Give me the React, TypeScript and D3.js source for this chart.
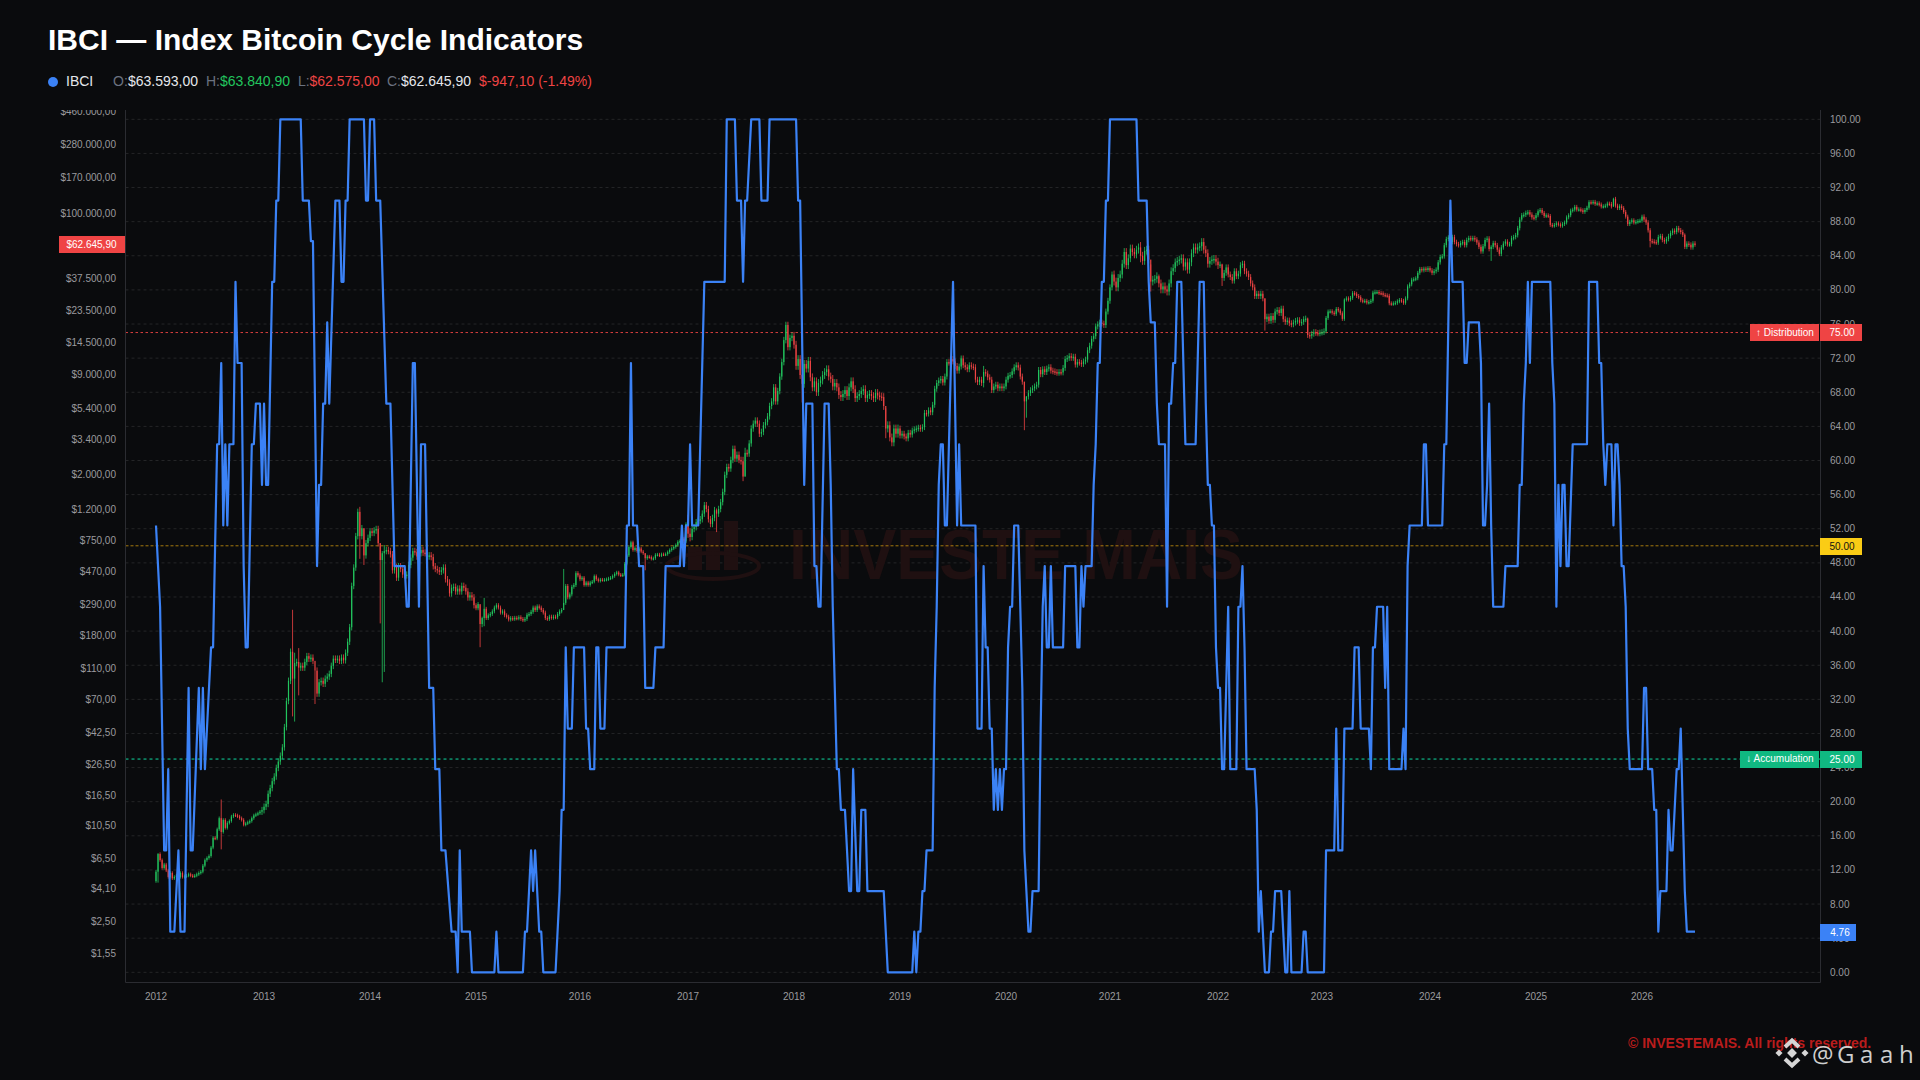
import React from "react";
import * as d3 from "d3";

const W = 1920, H = 1080;
const closes2012 = [5.3,6.9,6.3,5.6,5.9,5.4,4.9,5.2,4.8,4.9,5.0,4.9,5.2,4.9,4.95,5.0,5.1,5.0,4.95,5.0,5.1,5.2,5.3,5.8,6.3,6.5,6.7,7.6,8.8,8.7,10.0,11.8,9.6,11.5,10.2,11,11.3,12.1,12.4,12.3,12.1,11.8,11.5,10.7,10.9,11.1,11.3,11.8,12.3,12.5,12.7,13.0];
const closes2013 = [13.3,14.0,14.6,17.0,18.5,20.5,22,25,27.5,30,34,46,68,92,142,95,120,122,112,115,112,122,133,128,130,124,107,76,90,92,88,95,98,102,115,128,126,128,124,130,125,140,165,205,380,500,800,1150,800,900,600,720].slice(0, 52);
const closes2014 = [780,860,840,870,890,720,560,620,640,650,640,610,480,505,430,510,490,450,445,450,520,580,640,630,590,620,650,625,620,590,600,585,510,490,480,470,480,500,420,400,340,370,375,350,365,350,380,370,350,320,330,320,285];
const closes2015 = [272,290,215,235,270,235,245,250,260,275,285,275,255,260,245,240,230,235,232,236,234,238,232,228,232,247,250,258,275,265,280,275,265,255,235,232,240,236,240,238,250,260,265,295,380,320,335,375,385,460,445,420];
const closes2016 = [430,385,400,385,400,405,440,420,410,418,415,417,420,425,430,440,455,465,450,445,450,530,600,680,730,650,670,640,665,635,620,575,590,585,570,575,605,608,600,610,608,612,630,650,665,680,700,735,745,770,740,960];
const closes2017 = [830,790,890,915,985,1005,1030,1120,1270,1200,1030,960,1050,1180,1120,1200,1330,1550,2000,2250,2200,2500,2950,2550,2700,2500,2450,1950,2780,2750,3200,4000,4300,4500,4300,3700,3800,4200,4400,4800,5600,6000,7400,6000,7000,8700,10800,15000,18800,13500,15500,16000];
const closes2018 = [14000,10200,11300,8900,7800,10500,9800,11000,8600,7400,8100,6900,7900,8200,8900,9300,9700,8700,8400,7500,7900,7400,6600,6400,6700,7100,6500,7400,8100,7200,6300,6500,6700,7000,7200,6300,6600,6700,6500,6300,6800,6550,6450,6400,5600,4000,4200,3500,3250,4000,3700,4000];
const closes2019 = [3600,3700,3550,3450,3750,3650,3880,3950,4000,4050,3980,4080,5050,5000,5250,5100,5700,7250,7900,8200,8400,7950,8700,10800,10700,11300,10900,10200,9500,10100,11400,10300,10000,9700,10300,10100,10000,8300,8000,8300,7900,9300,9100,8600,8300,7100,7500,7700,7300,7500,7300,7500];
const closes2020 = [8300,8800,8900,9400,10000,10300,9950,8700,8050,6000,6450,6800,7100,7300,7500,7700,9600,9000,9700,9300,9800,10000,9500,9400,9300,9200,9300,9250,9900,11300,11500,11800,11500,11700,10400,10800,10700,10500,10900,11200,12900,13800,15300,15900,18400,19000,19500,19200,18800,23000,27000,33000,40000];
const closes2021 = [36000,33000,38000,40000,47000,56000,46000,51000,59000,56000,54000,58000,60000,53000,49000,57000,58000,50000,36000,37000,37500,39000,35000,32000,33500,32000,31000,35000,42000,44000,48000,49000,50000,51000,45000,48000,43000,48000,55000,60000,58000,60000,61000,65000,58000,55000,47000,49000,50000,50500,48500,46000];
const closes2022 = [46500,38000,41000,44500,40000,38500,36500,42000,39000,40500,46000,47000,42000,40500,38500,35000,33000,29000,30000,29000,30000,28000,20500,21300,20000,21500,20300,23000,23500,22500,24000,20500,19700,20100,19300,19000,19500,20000,20200,19400,19700,20500,20700,16200,16000,16500,16900,16700,16600,16800,16900,17100];
const closes2023 = [20900,23000,23100,22600,22200,23900,23400,22400,20600,27500,28000,27500,28200,30300,30000,29000,28500,27200,26800,27000,26300,26500,27000,30500,30700,30800,30300,30200,29500,29300,29100,26000,25800,26000,26200,26800,27300,27000,26200,28000,33500,34500,37000,37300,37800,41000,43500,42500,43700,42800,44000,42500];
const closes2024 = [41000,42000,43000,48000,52000,52500,62000,68000,69500,65000,70000,65000,63000,62000,64000,65000,62000,67000,69000,68000,69000,67500,64500,60500,56500,61000,67000,68500,58500,60500,64000,62000,58000,54500,60000,63500,65500,62800,63000,69000,70000,72000,80000,91000,97000,97800,100500,101500,98000,94000,93000,97000];
const closes2025 = [103000,105000,100500,96000,97000,96000,84000,83000,84000,86000,84500,83000,85000,87000,94000,97000,104000,105500,110000,105500,106000,104500,102000,105000,108500,118000,117000,118500,115000,116000,114000,110500,111000,112000,115500,115000,110500,124000,112000,108000,111000,108000,102000,95000,85000,88000,90000,87000,88000,89000,89500,95000];
const closes2026 = [91000,87000,77500,66000,65500,65000,64500,70000,71000,67000,65500,68000,71000,74500,77000,75500,80000,77500,75500,72500,60500,63500,62500,60000,63593,62645.9];
const firstOpen = 4.6;

// typical shadow beyond the body for each year, in percent
const shadowPctByYear = [2.5,5,5,3,2.5,5,6,4.5,4.5,6,4.5,3,3.5,3,3.5];
const yearStartWeeks = [0,52,104,157,209,261,313,365,417,470,522,574,626,678,730];

// [week, low, high] for the long shadows that stand out
const shadows: [number, number, number][] = [
  [1,4.5,7.0],[32,7.4,15.6],[67,54,266],[68,50,140],[70,74,150],[78,65,107],[100,570,1240],[102,520,900],[110,217,720],[111,90,640],[112,105,700],
  [159,152,285],[160,205,240],[161,208,318],[200,285,490],[240,480,620],[261,780,1100],[262,740,900],[275,850,1210],[288,1820,2620],[289,1950,3000],
  [317,5900,9000],[358,3460,5400],[406,7400,10200],[426,3900,8050],[427,4700,6500],[483,48000,65000],[488,31000,46500],[492,33000,40000],[513,57000,68900],
  [523,33700,47000],[544,17300,28000],[565,15500,21000],[583,20000,28000],[655,49000,62000],[715,110000,126000],[733,60000,80000],[750,58500,74000],
];

const ibciTrace: [number, number][] = [
[0,11],[2,9],[4,3],[5,3],[6,5],[7,1],[9,1],[11,3],[12,1],[14,1],[16,7],[17,3],[18,3],[21,7],[22,5],[23,7],[24,5],[27,8],[28,8],[30,13],[31,13],[32,15],[33,11],[34,13],[35,11],[36,13],[38,13],[39,17],[40,15],[42,15],[43,10],[44,8],[45,8],[47,13],[48,13],[49,14],[51,14],[52,12],[53,14],[54,12],[55,12],[57,17],[58,17],[59,19],[60,19],[61,21],[71,21],[72,19],[75,19],[76,18],[77,18],[79,10],[80,12],[81,12],[82,14],[83,14],[84,16],[85,14],[88,19],[90,19],[91,17],[92,17],[93,19],[94,19],[95,21],[102,21],[103,19],[104,19],[105,21],[107,21],[108,19],[110,19],[113,14],[115,14],[117,10],[122,10],[123,9],[124,9],[126,15],[127,15],[129,9],[130,13],[132,13],[134,7],[136,7],[137,5],[139,5],[140,3],[142,3],[145,1],[147,1],[148,0],[149,3],
[150,1],[154,1],[155,0],[166,0],[167,1],[168,0],[180,0],[181,1],[182,1],[184,3],[185,2],[186,3],[188,1],[189,1],[190,0],[196,0],[198,2],[199,4],[200,4],[201,8],[202,6],[204,6],[205,8],[210,8],[211,6],[212,6],[213,5],[215,5],[216,8],[217,8],[218,6],[220,6],[221,8],[230,8],[231,11],[232,11],[233,15],[234,11],[236,11],[237,10],[239,10],[240,7],[244,7],[245,8],[249,8],[250,10],[257,10],[258,11],[259,10],[260,11],[261,11],[262,13],[263,11],[266,11],[269,17],[279,17],[280,21],[284,21],[285,19],[287,19],[288,17],[289,19],[290,19],[292,21],[296,21],[297,19],[300,19],
[301,21],[314,21],[315,19],[316,19],[318,12],[319,14],[322,14],[323,10],[324,10],[325,9],[326,9],[328,14],[330,14],[331,12],[332,9],[333,7],[334,5],[335,5],[336,4],[338,4],[340,2],[341,2],[342,5],[344,2],[345,2],[346,4],[348,4],[349,2],[357,2],[359,0],[371,0],[372,1],[373,0],[374,1],[375,1],[376,2],[377,2],[378,3],[381,3],[382,7],[383,9],[384,12],[385,13],[386,13],[387,11],[388,11],[391,17],[393,11],[394,13],[395,11],[402,11],[403,6],[405,6],[406,10],[407,8],[408,8],[409,6],[410,6],[411,4],[412,5],[413,4],[414,5],[415,4],[416,5],[417,5],[418,8],[419,9],[420,9],[421,11],[423,11],[424,9],[425,7],[426,3],[427,2],[428,1],[429,1],[430,2],[433,2],[434,6],[435,9],[436,10],[437,8],[438,8],[439,10],[440,8],[445,8],[446,10],[451,10],[452,8],[453,8],
[454,10],[455,9],[456,10],[459,10],[460,12],[461,13],[462,15],[463,15],[464,17],[465,17],[466,19],[467,19],[468,21],[481,21],[482,19],[486,19],[487,17],[488,16],[490,16],[491,14],[492,13],[495,13],[496,9],[497,14],[498,14],[499,15],[500,15],[501,17],[503,17],[505,13],[510,13],[512,17],[514,17],[515,14],[516,12],[517,12],[518,11],[519,11],[520,8],[521,7],[522,7],[523,5],[524,5],[526,9],[527,5],[530,5],[531,9],[532,9],[533,10],[534,8],[535,5],[539,5],[540,4],[541,1],[542,2],[544,0],[546,0],[547,1],[548,1],[549,2],[552,2],[554,0],[555,0],[556,2],[557,0],[562,0],[563,1],[564,1],[565,0],[573,0],[574,3],[578,3],[579,6],[580,3],[582,3],[583,6],[587,6],[588,8],[590,8],[591,6],[595,6],[596,5],[597,8],[598,8],[599,9],[602,9],[603,7],[604,9],
[605,5],[611,5],[612,6],[613,5],[614,10],[615,11],[621,11],[622,13],[623,13],[624,11],[631,11],[632,13],[633,13],[634,16],[635,19],[636,17],[641,17],[642,15],[643,15],[644,16],[649,16],[650,15],[651,11],[652,11],[653,12],[654,14],[655,11],[656,9],[661,9],[662,10],[668,10],[669,12],[670,12],[671,14],[672,15],[673,17],[674,15],[675,17],[684,17],[685,15],[686,14],[687,9],[688,12],[689,10],[690,12],[691,12],[692,10],[693,10],[695,13],[702,13],[703,17],[707,17],[708,15],[709,15],[710,13],[711,12],[712,13],[714,13],[715,11],[716,13],[717,13],[718,12],[719,10],[720,10],[721,9],[722,6],[723,5],[729,5],[730,7],[731,7],[732,5],[734,5],[735,4],[736,4],[737,1],[738,2],[741,2],[742,4],[743,3],[744,3],[746,5],[747,5],[748,6],[749,4],[750,2],[751,1],[755,1],
];

const leftTicks = [460000,280000,170000,100000,37500,23500,14500,9000,5400,3400,2000,1200,750,470,290,180,110,70,42.5,26.5,16.5,10.5,6.5,4.1,2.5,1.55];
const rightTicks = d3.range(0, 101, 4);
const yearLabels = [2012,2013,2014,2015,2016,2017,2018,2019,2020,2021,2022,2023,2024,2025,2026];
const yearWeeks = [0,53,105,157,208,261,313,365,417,468,521,572,625,677,729];

const closes = [...closes2012,...closes2013,...closes2014,...closes2015,...closes2016,...closes2017,...closes2018,...closes2019,...closes2020,...closes2021,...closes2022,...closes2023,...closes2024,...closes2025,...closes2026];

const FONT = "'Liberation Sans', Arial, sans-serif";
const GREEN = "#22c55e", RED = "#ef4444", BLUE = "#3b82f6";
const AXIS_TEXT = "#9a9a9e";
const L = 125.5, R = 1820.5, T = 110, B = 982.5;
const money = (v: number) => "$" + v.toLocaleString("de-DE", { minimumFractionDigits: 2, maximumFractionDigits: 2 });

export default function App() {
  const x = d3.scaleLinear().domain([0, 755]).range([156, 1695]);
  const yR = d3.scaleLinear().domain([0, 100]).range([972.3, 119.3]);
  const lastClose = closes[closes.length - 1];
  const yP = d3.scaleLog().domain([lastClose, 10 * lastClose]).range([244.5, 90.5]);
  const shadowMap = new Map(shadows.map((s) => [s[0], s]));
  const line = d3.line<[number, number]>().x((d) => x(d[0])).y((d) => yR((d[1] * 100) / 21)).curve(d3.curveLinear);
  const yearOf = d3.bisector((d: number) => d).right;

  const tagText = { fontFamily: FONT, fontSize: 10, textAnchor: "middle" as const, dominantBaseline: "central" as const };
  const refs = [
    { v: 75, c: "#ef4444", dash: "2.5 2.5", op: 0.9 },
    { v: 50, c: "#d99f0f", dash: "3 2", op: 0.75 },
    { v: 25, c: "#10d9a0", dash: "3 3", op: 1 },
  ];

  return (
    <svg width={W} height={H} viewBox={`0 0 ${W} ${H}`} style={{ position: "absolute", left: 0, top: 0, display: "block" }} xmlns="http://www.w3.org/2000/svg">
      <defs>
        <clipPath id="leftAxisClip"><rect x={0} y={T} width={L} height={B - T + 20} /></clipPath>
      </defs>
      <rect width={W} height={H} fill="#0a0b0d" />

      <text x={48} y={50} fill="#ffffff" fontFamily={FONT} fontWeight={700} fontSize={30}>IBCI — Index Bitcoin Cycle Indicators</text>
      <circle cx={53} cy={82} r={5} fill={BLUE} />
      <g fontFamily={FONT} fontSize={14}>
        <text x={66} y={86} fill="#e5e7eb">IBCI</text>
        <text x={113} y={86} fill="#6b7280">O:<tspan x={128} fill="#e5e7eb">$63.593,00</tspan></text>
        <text x={206} y={86} fill="#6b7280">H:<tspan x={220} fill={GREEN}>$63.840,90</tspan></text>
        <text x={298} y={86} fill="#6b7280">L:<tspan x={309.5} fill={RED}>$62.575,00</tspan></text>
        <text x={387} y={86} fill="#6b7280">C:<tspan x={401} fill="#e5e7eb">$62.645,90</tspan></text>
        <text x={479} y={86} fill={RED}>$-947,10 (-1.49%)</text>
      </g>

      {rightTicks.map((t) => (
        <line key={t} x1={L} x2={R} y1={yR(t)} y2={yR(t)} stroke="#ffffff" strokeOpacity={0.11} strokeDasharray="3 3" />
      ))}

      <g fill="#1f1011">
        <text x={789} y={579} fontFamily={FONT} fontWeight={700} fontSize={71} textLength={454} lengthAdjust="spacingAndGlyphs">INVESTE MAIS</text>
        <rect x={688} y={547} width={14} height={23} />
        <rect x={706} y={531} width={14} height={39} />
        <rect x={724} y={521} width={14} height={49} />
        <ellipse cx={713} cy={566} rx={46} ry={13} fill="none" stroke="#1f1011" strokeWidth={4} />
      </g>

      {refs.map((r) => (
        <line key={r.v} x1={L} x2={R} y1={yR(r.v)} y2={yR(r.v)} stroke={r.c} strokeOpacity={r.op} strokeWidth={1} strokeDasharray={r.dash} />
      ))}

      <g>
        {closes.map((c, i) => {
          const o = i === 0 ? firstOpen : closes[i - 1];
          const col = c >= o ? GREEN : RED;
          const hiBody = Math.max(o, c);
          const loBody = Math.min(o, c);
          const pct = shadowPctByYear[yearOf(yearStartWeeks, i) - 1] / 100;
          const s = shadowMap.get(i);
          const lo = s ? s[1] : loBody / (1 + pct);
          const hi = s ? s[2] : hiBody * (1 + pct);
          const top = yP(hiBody);
          const bot = yP(loBody);
          return (
            <g key={i}>
              <line x1={x(i)} x2={x(i)} y1={yP(hi)} y2={yP(lo)} stroke={col} strokeWidth={0.8} />
              <rect x={x(i) - 0.6} y={top} width={1.2} height={Math.max(1.5, bot - top)} fill={col} />
            </g>
          );
        })}
      </g>

      <path d={line(ibciTrace) || ""} fill="none" stroke={BLUE} strokeWidth={2.2} strokeLinejoin="round" />

      <path d={`M${L},${T} V${B} H${R} V${T}`} fill="none" stroke="#2b2c31" strokeWidth={1} />

      <g clipPath="url(#leftAxisClip)" fontFamily={FONT} fontSize={10} fill={AXIS_TEXT} textAnchor="end">
        {leftTicks.map((t) => (
          <text key={t} x={116} y={yP(t)} dominantBaseline="central">{money(t)}</text>
        ))}
      </g>
      <g fontFamily={FONT} fontSize={10} fill={AXIS_TEXT}>
        {rightTicks.map((t) => (
          <text key={t} x={1830} y={yR(t)} dominantBaseline="central">{t.toFixed(2)}</text>
        ))}
      </g>
      <g fontFamily={FONT} fontSize={10} fill={AXIS_TEXT} textAnchor="middle">
        {yearLabels.map((l, i) => (
          <text key={l} x={x(yearWeeks[i])} y={996.5} dominantBaseline="central">{l}</text>
        ))}
      </g>

      <rect x={59} y={236} width={66} height={17} fill={RED} />
      <text {...tagText} x={91.5} y={244.5} fill="#fff">{money(lastClose)}</text>

      <rect x={1750} y={324} width={69} height={17} fill={RED} />
      <text {...tagText} x={1785} y={332} fill="#fff">↑ Distribution</text>
      <rect x={1820} y={324} width={42} height={17} fill={RED} />
      <text {...tagText} x={1842} y={332.5} fill="#fff">75.00</text>

      <rect x={1820} y={538} width={42} height={17} fill="#facc15" />
      <text {...tagText} x={1842} y={546.5} fill="#111">50.00</text>

      <rect x={1740} y={751} width={79} height={17} fill="#10b981" />
      <text {...tagText} x={1780} y={758.5} fill="#fff">↓ Accumulation</text>
      <rect x={1820} y={751} width={42} height={17} fill="#10b981" />
      <text {...tagText} x={1842} y={759.5} fill="#fff">25.00</text>

      <rect x={1820} y={924} width={36} height={17} fill={BLUE} />
      <text {...tagText} x={1840} y={932.5} fill="#fff">4.76</text>

      <text x={1628} y={1048} fill="#b91c1c" fontFamily={FONT} fontWeight={700} fontSize={14}>© INVESTEMAIS. All rights reserved.</text>
      <g transform="translate(1792,1053)" fill="#d6d6d6" stroke="none">
        <rect x={-3.5} y={-3.5} width={7} height={7} transform="rotate(45)" />
        <rect x={-15.5} y={-2.5} width={5} height={5} transform="rotate(45 -13 0)" />
        <rect x={10.5} y={-2.5} width={5} height={5} transform="rotate(45 13 0)" />
        <polyline points="-7,-6 0,-12.5 7,-6" fill="none" stroke="#d6d6d6" strokeWidth={4} />
        <polyline points="-7,6 0,12.5 7,6" fill="none" stroke="#d6d6d6" strokeWidth={4} />
      </g>
      <text x="1812 1837 1860 1880 1899" y={1063} fill="#cfcfcf" fontFamily="'Open Sans', sans-serif" fontSize={24}>@Gaah</text>
    </svg>
  );
}
